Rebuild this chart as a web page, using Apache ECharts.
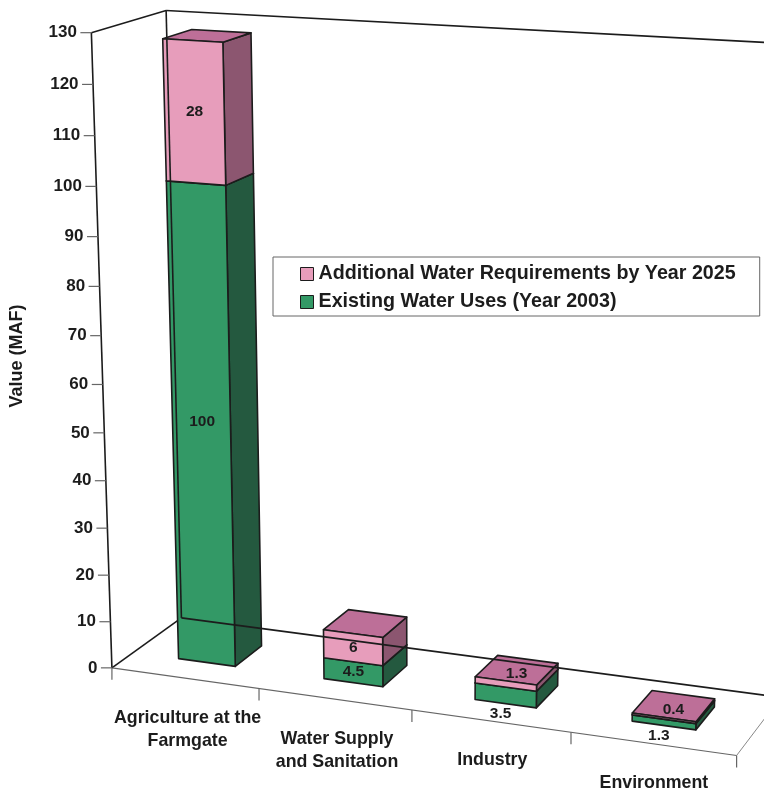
<!DOCTYPE html>
<html><head><meta charset="utf-8">
<style>html,body{margin:0;padding:0;background:#fff}#c{width:764px;height:788px}</style>
<script src="https://cdn.jsdelivr.net/npm/echarts@6/dist/echarts.min.js"></script>
</head><body><div id="c"></div>
<script>
const categories = ["Agriculture at the\nFarmgate", "Water Supply\nand Sanitation", "Industry", "Environment"];
const existingUses = [100, 4.5, 3.5, 1.3];
const additionalReq = [28, 6, 1.3, 0.4];
const yTicks = [0,10,20,30,40,50,60,70,80,90,100,110,120,130];
const seriesNames = ["Additional Water Requirements by Year 2025", "Existing Water Uses (Year 2003)"];

const FONT = '"Liberation Sans", Arial, sans-serif';
const INK = '#1c1c1c';
const G = {left:113, right:29, top:32, bottom:120, w:622, h:636};
// camera calibration: (u along categories, t height 0..1, w depth 0..1) -> screen
const calib = [
 [0,0,0,113.5,668.5],[1,0,0,259,690],[2,0,0,411,712],[3,0,0,570,733],[4,0,0,735,755],
 [0,1,0,92,31],[0,1,0,92,31],[0,1,0,92,31],[0,100/130,0,98,186],[0,70/130,0,100.5,335],[0,50/130,0,105,433],
 [0,0,1,181,617],[0,0,1,181,617],[0,1,1,165,12],[0,1,1,165,12],[0,1,1,165,12],[4,0,1,783,695],[4,1,1,806,44],[4,1,0,756,72]
];
function solveCamera(pts){
  const n=11, A=[...Array(n)].map(()=>Array(n+1).fill(0));
  const add=(r,b)=>{for(let i=0;i<n;i++){for(let j=0;j<n;j++)A[i][j]+=r[i]*r[j];A[i][n]+=r[i]*b;}};
  const sx=1/500;
  pts.forEach(([u,t,w,x,y])=>{
    x*=sx;y*=sx;
    add([u,t,w,1,0,0,0,0,-x*u,-x*t,-x*w],x);
    add([0,0,0,0,u,t,w,1,-y*u,-y*t,-y*w],y);
  });
  for(let c=0;c<n;c++){
    let p=c;for(let r=c+1;r<n;r++)if(Math.abs(A[r][c])>Math.abs(A[p][c]))p=r;
    [A[c],A[p]]=[A[p],A[c]];
    for(let r=0;r<n;r++){if(r===c)continue;const f=A[r][c]/A[c][c];for(let k=c;k<=n;k++)A[r][k]-=f*A[c][k];}
  }
  const s=A.map((r,i)=>r[n]/r[i]);
  return (u,t,w)=>{const d=s[8]*u+s[9]*t+s[10]*w+1;
    return [(s[0]*u+s[1]*t+s[2]*w+s[3])/d/sx,(s[4]*u+s[5]*t+s[6]*w+s[7])/d/sx];};
}
const proj = solveCamera(calib);
const toU = px => (px-G.left)/G.w*categories.length;
const toT = py => (G.top+G.h-py)/G.h;
const BAR = {shift:-0.03, half:0.195, w0:0.3, w1:0.7, thin:4};

function bold(size){return 'bold '+size+'px '+FONT;}
function label(text,p,size){
  return {type:'text',z2:5,style:{text:text,x:p[0],y:p[1],align:'center',verticalAlign:'middle',font:bold(size),fill:INK}};
}
function segment(colors,isTop,values){
  return function(params,api){
    const i=api.value(0), base=api.value(1), top=api.value(2);
    const c=toU(api.coord([i,0])[0])+BAR.shift;
    const t0=toT(api.coord([i,base])[1]), t1=toT(api.coord([i,top])[1]);
    const u0=c-BAR.half,u1=c+BAR.half,w0=BAR.w0,w1=BAR.w1;
    const stroke={stroke:INK,lineWidth:1.6,lineJoin:'round'};
    const poly=(pts,fill)=>({type:'polygon',shape:{points:pts},style:Object.assign({fill:fill},stroke)});
    const kids=[
      poly([proj(u1,t0,w0),proj(u1,t0,w1),proj(u1,t1,w1),proj(u1,t1,w0)],colors.side),
      poly([proj(u0,t1,w0),proj(u1,t1,w0),proj(u1,t1,w1),proj(u0,t1,w1)],colors.top),
      poly([proj(u0,t0,w0),proj(u1,t0,w0),proj(u1,t1,w0),proj(u0,t1,w0)],colors.front)
    ];
    const val=values[i]; let p;
    if(val>=BAR.thin){
      const a=proj(u0,t0,w0),b=proj(u1,t1,w0); p=[(a[0]+b[0])/2,(a[1]+b[1])/2];
    }else if(isTop){
      const a=proj(u0,t1,w0),b=proj(u1,t1,w1); p=[(a[0]+b[0])/2,(a[1]+b[1])/2+3.5];
    }else{
      const a=proj(c,t0,w0); p=[a[0]-5,a[1]+10.5];
    }
    kids.push(label(String(val),p,15.5));
    return {type:'group',children:kids};
  };
}
function line(a,b,color,width){
  return {type:'line',shape:{x1:a[0],y1:a[1],x2:b[0],y2:b[1]},style:{stroke:color,lineWidth:width}};
}
const GREEN={front:'#339966',top:'#2A7F55',side:'#24593F'}, PINK={front:'#E79DBB',top:'#BD6F98',side:'#8C5670'};
const nCat=categories.length;

const option={
  animation:false,
  backgroundColor:'#fff',
  tooltip:{show:false},
  legend:{
    data:seriesNames,orient:'vertical',left:273,top:257,
    padding:[7,24,4,27],itemGap:8,itemWidth:13,itemHeight:13,icon:'rect',
    borderColor:'#666',borderWidth:1,selectedMode:false,
    itemStyle:{borderColor:INK,borderWidth:1},
    textStyle:{fontFamily:FONT,fontWeight:'bold',fontSize:19.7,color:INK}
  },
  grid:{left:G.left,right:G.right,top:G.top,bottom:G.bottom,containLabel:false},
  xAxis:{type:'category',data:categories,show:false},
  yAxis:{type:'value',min:0,max:130,interval:10,name:'Value (MAF)',nameLocation:'middle',nameRotate:90,nameGap:94,
    nameTextStyle:{fontFamily:FONT,fontWeight:'bold',fontSize:18,color:INK,padding:[0,12,0,0]},
    axisLine:{show:false},axisTick:{show:false},axisLabel:{show:false},splitLine:{show:false}},
  series:[
    {type:'custom',name:'floor',z:1,silent:true,data:[0],renderItem:()=>({type:'group',children:[
      line(proj(0,0,0),proj(0,0,1),INK,1.6),
      line(proj(0,0,0),proj(nCat,0,0),'#666',1.2),
      line(proj(nCat,0,0),proj(nCat,0,1),'#888',1),
      line(proj(0,0,0),proj(0,1,0),INK,1.6),
      line(proj(0,1,0),proj(0,1,1),INK,1.6)
    ]})},
    {type:'custom',name:'yTicks',z:1,silent:true,data:yTicks.map(v=>[0,v]),encode:{x:0,y:1},
     renderItem:(p,api)=>{
      const v=api.value(1),q=proj(0,toT(api.coord([0,v])[1]),0);
      return {type:'group',children:[
        line(q,[q[0]-11,q[1]],'#666',1.2),
        {type:'text',style:{text:String(v),x:q[0]-14.5,y:q[1],align:'right',verticalAlign:'middle',font:bold(17),fill:INK}}
      ]};
    }},
    {type:'custom',name:'xTicks',z:1,silent:true,data:[0,1,2,3,4],
     renderItem:(p,api)=>{
      const u=api.value(0),q=proj(u,0,0);
      return line(q,[q[0],q[1]+12],'#666',1.2);
    }},
    {type:'custom',name:'xLabels',z:1,silent:true,data:categories.map((c,i)=>[i]),encode:{x:0},
     renderItem:(p,api)=>{
      const i=api.value(0),q=proj(toU(api.coord([i,0])[0]),0,0);
      return {type:'text',style:{text:categories[i],x:q[0]-3+i,y:q[1]+27.5,align:'center',verticalAlign:'top',font:bold(17.8),lineHeight:23,fill:INK}};
    }},
    {type:'custom',name:seriesNames[1],z:2,itemStyle:{color:GREEN.front},
     data:existingUses.map((v,i)=>[i,0,v]),encode:{x:0,y:[1,2]},renderItem:segment(GREEN,false,existingUses)},
    {type:'custom',name:seriesNames[0],z:2,itemStyle:{color:PINK.front},
     data:additionalReq.map((v,i)=>[i,existingUses[i],existingUses[i]+v]),encode:{x:0,y:[1,2]},renderItem:segment(PINK,true,additionalReq)},
    {type:'custom',name:'backWall',z:3,silent:true,data:[0],renderItem:()=>({type:'group',children:[
      line(proj(0,0,1),proj(0,1,1),INK,1.6),
      line(proj(0,1,1),proj(nCat,1,1),INK,1.6),
      line(proj(0,0,1),proj(nCat,0,1),INK,1.6)
    ]})}
  ]
};
echarts.init(document.getElementById('c'),null,{renderer:'canvas'}).setOption(option);
</script></body></html>
